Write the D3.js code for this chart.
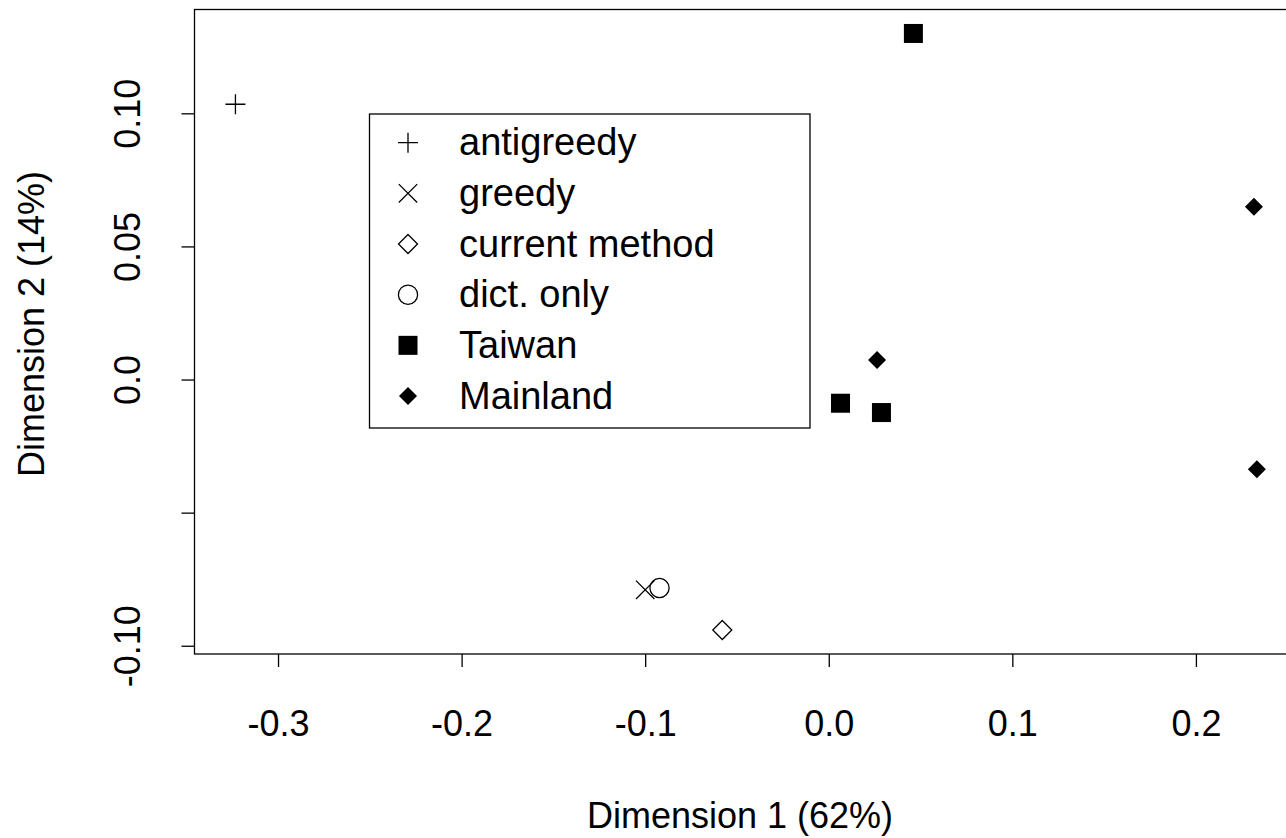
<!DOCTYPE html>
<html>
<head>
<meta charset="utf-8">
<script src="https://cdn.jsdelivr.net/npm/d3@7"></script>
<style>
  body { margin: 0; background: #fff; }
  svg { display: block; font-family: "Liberation Sans", Arial, Helvetica, sans-serif; }
</style>
</head>
<body>
<div id="chart"></div>
<script>
'use strict';

// MDS of segmentation methods vs. regional corpora
var groups = ["antigreedy", "greedy", "current method", "dict. only", "Taiwan", "Mainland"];
var pointGroup = ["antigreedy", "greedy", "dict. only", "current method",
                  "Taiwan", "Taiwan", "Taiwan", "Mainland", "Mainland", "Mainland"];
var dim1 = [-0.3232, -0.1000, -0.0922, -0.0580, 0.0461, 0.0064, 0.0287, 0.0263, 0.2316, 0.2332];
var dim2 = [0.1034, -0.0790, -0.0783, -0.0941, 0.1300, -0.0089, -0.0124, 0.0073, 0.0649, -0.0337];

var xTicks = [-0.3, -0.2, -0.1, 0.0, 0.1, 0.2];
var xTickLabels = ["-0.3", "-0.2", "-0.1", "0.0", "0.1", "0.2"];
var yTicks = [-0.10, -0.05, 0.0, 0.05, 0.10];
var yTickLabels = ["-0.10", "", "0.0", "0.05", "0.10"];

var width = 1286,
    height = 838,
    fontSize = 36,
    legendFont = 38;

var svg = d3.select("#chart").append("svg")
  .attr("width", width)
  .attr("height", height);

// plot region runs a little past the right edge of the picture, like the original
var x = d3.scaleLinear().domain([-0.3455, 0.2555]).range([194.5, 1297.8]);
var y = d3.scaleLinear().domain([-0.1031, 0.1390]).range([654, 9.5]);

// symbols, R pch style
function drawSymbol(sel, g) {
  var s = 10;
  if (g === "antigreedy") {
    sel.append("path").attr("d", "M" + (-s) + ",0H" + s + "M0," + (-s) + "V" + s)
      .attr("stroke", "#000").attr("stroke-width", 1.3).attr("fill", "none");
  } else if (g === "greedy") {
    var t = 9.2;
    sel.append("path").attr("d", "M" + (-t) + "," + (-t) + "L" + t + "," + t + "M" + (-t) + "," + t + "L" + t + "," + (-t))
      .attr("stroke", "#000").attr("stroke-width", 1.3).attr("fill", "none");
  } else if (g === "current method") {
    sel.append("path").attr("d", "M0,-9.5L9.5,0L0,9.5L-9.5,0Z")
      .attr("stroke", "#000").attr("stroke-width", 1.3).attr("fill", "none");
  } else if (g === "dict. only") {
    sel.append("circle").attr("r", 9.6)
      .attr("stroke", "#000").attr("stroke-width", 1.3).attr("fill", "none");
  } else if (g === "Taiwan") {
    sel.append("rect").attr("x", -9.5).attr("y", -9.5).attr("width", 19).attr("height", 19)
      .attr("fill", "#000");
  } else if (g === "Mainland") {
    sel.append("path").attr("d", "M0,-9L9,0L0,9L-9,0Z").attr("fill", "#000");
  }
}

// axes
var xAxis = d3.axisBottom(x)
  .tickValues(xTicks)
  .tickFormat(function (d, i) { return xTickLabels[i]; })
  .tickSize(13)
  .tickPadding(43);

var gx = svg.append("g")
  .attr("transform", "translate(0," + y.range()[0] + ")")
  .call(xAxis);
gx.select(".domain").remove();
gx.selectAll("line").attr("stroke", "#000").attr("stroke-width", 1.3);
gx.selectAll("text").attr("font-size", fontSize).attr("fill", "#000")
  .attr("font-family", "Liberation Sans, Arial, sans-serif");

var yAxis = d3.axisLeft(y)
  .tickValues(yTicks)
  .tickFormat(function (d, i) { return yTickLabels[i]; })
  .tickSize(13);

var gy = svg.append("g")
  .attr("transform", "translate(" + x.range()[0] + ",0)")
  .call(yAxis);
gy.select(".domain").remove();
gy.selectAll("line").attr("stroke", "#000").attr("stroke-width", 1.3);
gy.selectAll("text")
  .attr("font-size", fontSize).attr("fill", "#000")
  .attr("font-family", "Liberation Sans, Arial, sans-serif")
  .attr("transform", "rotate(-90)")
  .attr("text-anchor", "middle")
  .attr("x", 0)
  .attr("y", -55)
  .attr("dy", null);

// box
svg.append("rect")
  .attr("x", x.range()[0])
  .attr("y", y.range()[1])
  .attr("width", x.range()[1] - x.range()[0])
  .attr("height", y.range()[0] - y.range()[1])
  .attr("fill", "none")
  .attr("stroke", "#000")
  .attr("stroke-width", 1.3);

// axis titles
svg.append("text")
  .attr("x", 740)
  .attr("y", 828)
  .attr("text-anchor", "middle")
  .attr("font-size", fontSize)
  .text("Dimension 1 (62%)");

svg.append("text")
  .attr("transform", "translate(44,324) rotate(-90)")
  .attr("text-anchor", "middle")
  .attr("font-size", fontSize)
  .text("Dimension 2 (14%)");

// points
var pts = svg.append("g");
dim1.forEach(function (d, i) {
  var g = pts.append("g").attr("transform", "translate(" + x(d) + "," + y(dim2[i]) + ")");
  drawSymbol(g, pointGroup[i]);
});

// legend
var legend = svg.append("g").attr("transform", "translate(369.5,114)");
legend.append("rect")
  .attr("width", 440.5)
  .attr("height", 314)
  .attr("fill", "#fff")
  .attr("stroke", "#000")
  .attr("stroke-width", 1.3);

var rowY = d3.scalePoint().domain(groups).range([28.7, 282]);
groups.forEach(function (g) {
  var row = legend.append("g").attr("transform", "translate(38.5," + rowY(g) + ")");
  drawSymbol(row, g);
  row.append("text")
    .attr("x", 51)
    .attr("y", 12.5)
    .attr("font-size", legendFont)
    .text(g);
});
</script>
</body>
</html>
